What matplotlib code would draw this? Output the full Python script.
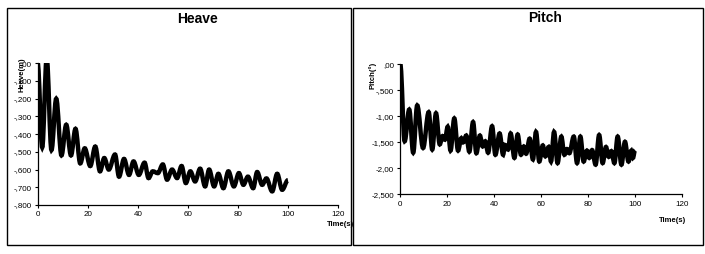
import matplotlib.pyplot as plt
from matplotlib.path import Path
from matplotlib.patches import PathPatch, Rectangle

plt.rcParams['font.family'] = ['Liberation Sans', 'DejaVu Sans']

# local peaks / troughs (time in s)
heave_t = [0, 1.8, 3.6, 5.5, 7.4, 9.5, 11.4, 13.3, 15.1, 17.0,
           18.8, 21.0, 23.0, 24.9, 26.6, 28.4, 30.9, 32.5, 34.5, 36.5,
           38.3, 40.4, 42.7, 44.3, 46.0, 48.0, 50.0, 51.7, 53.7, 55.7,
           57.5, 59.2, 61.0, 62.9, 64.9, 66.9, 68.5, 70.5, 72.2, 74.2,
           76.2, 78.4, 80.4, 82.2, 84.0, 86.1, 87.7, 89.7, 91.4, 93.7,
           95.7, 97.7, 100.0]
heave_m = [0, -0.475, 0.03, -0.49, -0.20, -0.52, -0.347, -0.52, -0.37, -0.565,
           -0.48, -0.58, -0.47, -0.61, -0.535, -0.60, -0.515, -0.64, -0.54, -0.63,
           -0.554, -0.63, -0.561, -0.648, -0.61, -0.62, -0.571, -0.657, -0.60, -0.648,
           -0.58, -0.676, -0.61, -0.667, -0.595, -0.695, -0.60, -0.695, -0.624, -0.705,
           -0.61, -0.695, -0.62, -0.686, -0.64, -0.705, -0.614, -0.686, -0.65, -0.723,
           -0.624, -0.714, -0.66]

pitch_t = [0, 1.85, 3.8, 5.5, 7.2, 9.7, 12.1, 13.6, 15.2, 16.8,
           18.0, 19.0, 20.2, 21.4, 23.0, 24.6, 26.0, 26.8, 28.1, 29.4,
           31.0, 32.4, 33.9, 35.1, 36.2, 37.4, 39.1, 40.5, 42.3, 43.8,
           44.5, 45.9, 47.0, 48.6, 50.0, 51.4, 52.6, 53.6, 55.1, 56.5,
           57.8, 59.2, 60.7, 61.8, 63.2, 64.2, 65.5, 67.0, 68.6, 69.9,
           71.0, 72.0, 73.9, 75.3, 76.7, 78.1, 79.5, 80.5, 81.7, 83.2,
           84.7, 86.2, 87.6, 88.8, 89.9, 91.2, 92.6, 94.2, 95.7, 97.2,
           98.4, 99.1, 100.0]
pitch_deg = [0, -1.48, -0.87, -1.70, -0.79, -1.61, -0.92, -1.64, -0.94, -1.54,
             -1.38, -1.45, -1.20, -1.66, -1.04, -1.66, -1.42, -1.50, -1.37, -1.68,
             -1.11, -1.71, -1.37, -1.58, -1.48, -1.70, -1.19, -1.74, -1.33, -1.74,
             -1.55, -1.64, -1.33, -1.80, -1.35, -1.74, -1.58, -1.72, -1.43, -1.83,
             -1.30, -1.87, -1.56, -1.77, -1.59, -1.87, -1.30, -1.90, -1.39, -1.74,
             -1.63, -1.71, -1.39, -1.90, -1.39, -1.87, -1.66, -1.80, -1.65, -1.93,
             -1.36, -1.90, -1.59, -1.78, -1.67, -1.90, -1.39, -1.93, -1.49, -1.87,
             -1.66, -1.80, -1.65]

x_ticks = [0, 20, 40, 60, 80, 100, 120]
heave_ticks = [0, -0.1, -0.2, -0.3, -0.4, -0.5, -0.6, -0.7, -0.8]
heave_labels = [",00", "-,100", "-,200", "-,300", "-,400", "-,500", "-,600", "-,700", "-,800"]
pitch_ticks = [0, -0.5, -1.0, -1.5, -2.0, -2.5]
pitch_labels = [",00", "-,500", "-1,00", "-1,500", "-2,00", "-2,500"]


def smooth_path(t, v):
    # smoothed line through the extrema (flat tangent at each peak)
    verts = [(t[0], v[0])]
    codes = [Path.MOVETO]
    for i in range(1, len(t)):
        dt = t[i] - t[i - 1]
        verts += [(t[i - 1] + dt * 0.36, v[i - 1]), (t[i] - dt * 0.36, v[i]), (t[i], v[i])]
        codes += [Path.CURVE4] * 3
    return Path(verts, codes)


def style_axes(ax, yticks, ylabels, ylim):
    ax.set_xlim(0, 120)
    ax.set_ylim(*ylim)
    ax.set_xticks(x_ticks)
    ax.set_yticks(yticks)
    ax.set_yticklabels(ylabels)
    for s in ['top', 'right']:
        ax.spines[s].set_visible(False)
    for s in ['left', 'bottom']:
        ax.spines[s].set_linewidth(0.9)
    ax.tick_params(labelsize=5.8, length=2.5, width=0.8, pad=2)


fig = plt.figure(figsize=(7.05, 2.54), dpi=100)

# panel frames
fig.add_artist(Rectangle((7 / 705, 1 - 245 / 254), 344 / 705, 237 / 254,
                         transform=fig.transFigure, fill=False, lw=1, ec='black'))
fig.add_artist(Rectangle((353 / 705, 1 - 245 / 254), 350 / 705, 237 / 254,
                         transform=fig.transFigure, fill=False, lw=1, ec='black'))

# Heave
ax1 = fig.add_axes([37.7 / 705, 49 / 254, 300.3 / 705, 141.7 / 254])
ax1.add_patch(PathPatch(smooth_path(heave_t, heave_m), fill=False, lw=3.2, ec='black'))
style_axes(ax1, heave_ticks, heave_labels, (-0.8, 0))
fig.text(198 / 705, 1 - 19 / 254, "Heave", ha='center', va='center', fontsize=10, fontweight='bold')
fig.text(341 / 705, 1 - 225 / 254, "Time(s)", ha='center', va='center', fontsize=5.5, fontweight='bold')
fig.text(22 / 705, 1 - 75 / 254, "Heave(m)", ha='center', va='center', rotation=90,
         fontsize=5.5, fontweight='bold')

# Pitch
ax2 = fig.add_axes([400.3 / 705, 59.7 / 254, 281.7 / 705, 130 / 254])
ax2.add_patch(PathPatch(smooth_path(pitch_t, pitch_deg), fill=False, lw=3.2, ec='black'))
style_axes(ax2, pitch_ticks, pitch_labels, (-2.5, 0))
fig.text(545 / 705, 1 - 18 / 254, "Pitch", ha='center', va='center', fontsize=10, fontweight='bold')
fig.text(673 / 705, 1 - 220 / 254, "Time(s)", ha='center', va='center', fontsize=5.5, fontweight='bold')
fig.text(373 / 705, 1 - 75 / 254, "Pitch(°)", ha='center', va='center', rotation=90,
         fontsize=5.5, fontweight='bold')

fig.savefig("out.png", dpi=100)
